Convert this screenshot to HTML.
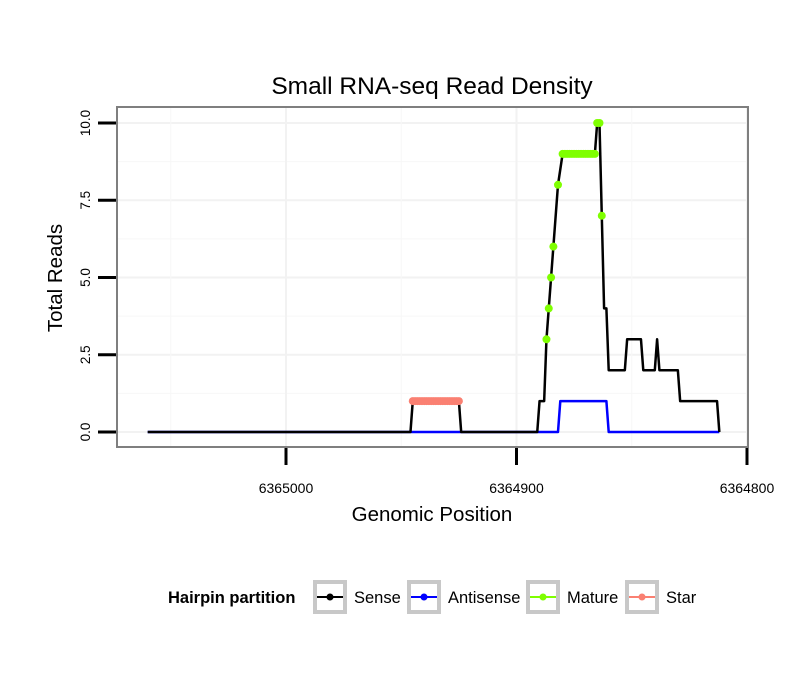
<!DOCTYPE html>
<html><head><meta charset="utf-8"><style>
body{margin:0;background:#fff}
svg{display:block;font-family:"Liberation Sans",sans-serif}
</style></head><body>
<svg id="chart" width="810" height="690">
<rect width="810" height="690" fill="#fff"/>
<text x="432" y="94" text-anchor="middle" font-size="24.5">Small RNA-seq Read Density</text>
<g id="grid"></g>
<g id="series"></g>
<rect x="117" y="107" width="631" height="340" fill="none" stroke="#7f7f7f" stroke-width="2"/>
<g id="axes"></g>
<text x="432" y="521" text-anchor="middle" font-size="20.5">Genomic Position</text>
<text transform="translate(62,278) rotate(-90)" text-anchor="middle" font-size="20.5">Total Reads</text>
<g id="legend">
<text x="168" y="603" font-size="16.5" font-weight="bold">Hairpin partition</text>
</g>
</svg>
<script>
const xTicks=[6365000,6364900,6364800];
const yTicks=[0,2.5,5,7.5,10];
const yTickLabels=["0.0","2.5","5.0","7.5","10.0"];
const senseX=[6365060,6364946,6364945,6364925,6364924,6364891,6364890,6364888,6364887,6364886,6364885,6364884,6364882,6364880,6364866,6364865,6364864,6364863,6364862,6364861,6364860,6364853,6364852,6364846,6364845,6364840,6364839,6364838,6364830,6364829,6364813,6364812];
const senseY=[0,0,1,1,0,0,1,1,3,4,5,6,8,9,9,10,10,7,4,4,2,2,3,3,2,2,3,2,2,1,1,0];
const antiX=[6365060,6364882,6364881,6364861,6364860,6364812];
const antiY=[0,0,1,1,0,0];
const starX=[6364945,6364944,6364943,6364942,6364941,6364940,6364939,6364938,6364937,6364936,6364935,6364934,6364933,6364932,6364931,6364930,6364929,6364928,6364927,6364926,6364925];
const starY=[1,1,1,1,1,1,1,1,1,1,1,1,1,1,1,1,1,1,1,1,1];
const matureX=[6364887,6364886,6364885,6364884,6364882,6364880,6364879,6364878,6364877,6364876,6364875,6364874,6364873,6364872,6364871,6364870,6364869,6364868,6364867,6364866,6364865,6364864,6364863];
const matureY=[3,4,5,6,8,9,9,9,9,9,9,9,9,9,9,9,9,9,9,9,10,10,7];
const legendLabels=["Sense","Antisense","Mature","Star"];
const legendColors=["#000000","#0000ff","#7fff00","#fa8072"];

const NS="http://www.w3.org/2000/svg";
const xs=v=>286+(6365000-v)*2.305;
const ys=v=>432-v*30.9;
function mk(tag,attrs,parent){const e=document.createElementNS(NS,tag);for(const k in attrs)e.setAttribute(k,attrs[k]);parent.appendChild(e);return e;}
const grid=document.getElementById('grid'),ser=document.getElementById('series'),ax=document.getElementById('axes'),lg=document.getElementById('legend');
for(let i=0;i<yTicks.length;i++){
  const g=mk('line',{x1:117,x2:748,y1:ys(yTicks[i]),y2:ys(yTicks[i]),stroke:'#f2f2f2','stroke-width':2},grid);
  
  
  if(i<yTicks.length-1){const m=mk('line',{x1:117,x2:748,y1:ys((yTicks[i]+yTicks[i+1])/2),y2:ys((yTicks[i]+yTicks[i+1])/2),stroke:'#f7f7f7','stroke-width':1},grid);
  
  }
  const t=mk('line',{x1:98,x2:116,y1:ys(yTicks[i]),y2:ys(yTicks[i]),stroke:'#000','stroke-width':3},ax);
  
  
  const l=mk('text',{transform:`translate(90,${ys(yTicks[i])}) rotate(-90)`,'text-anchor':'middle','font-size':13.5},ax);
  l.textContent=yTickLabels[i];
  
  
}
for(const v of xTicks){
  const g=mk('line',{x1:xs(v),x2:xs(v),y1:107,y2:447,stroke:'#f2f2f2','stroke-width':2},grid);
  
  
  const t=mk('line',{x1:xs(v),x2:xs(v),y1:448,y2:465,stroke:'#000','stroke-width':3},ax);
  
  
  const l=mk('text',{x:xs(v),y:493,'text-anchor':'middle','font-size':14},ax);
  l.textContent=v;
  
  
}
[6365050,6364950,6364850].forEach(v=>{const m=mk('line',{x1:xs(v),x2:xs(v),y1:107,y2:447,stroke:'#f7f7f7','stroke-width':1},grid);

});
function line(X,Y,color,name){const p=mk('polyline',{points:X.map((x,i)=>xs(x)+','+ys(Y[i])).join(' '),fill:'none',stroke:color,'stroke-width':2.5,'stroke-linejoin':'round'},ser);

}
function pts(X,Y,color,name){X.forEach((x,i)=>{const c=mk('circle',{cx:xs(x),cy:ys(Y[i]),r:4,fill:color},ser);

});}
line(antiX,antiY,'#0000ff','antisense-line');
line(senseX,senseY,'#000000','sense-line');
pts(starX,starY,'#fa8072','star-point');
pts(matureX,matureY,'#7fff00','mature-point');
const bx=[313,407,526,625];
legendLabels.forEach((lab,i)=>{
  const r=mk('rect',{x:bx[i]+2,y:582,width:30,height:30,fill:'#fff',stroke:'#c8c8c8','stroke-width':4},lg);
  
  
  mk('line',{x1:bx[i]+4,x2:bx[i]+30,y1:597,y2:597,stroke:legendColors[i],'stroke-width':2},lg);
  mk('circle',{cx:bx[i]+17,cy:597,r:3.5,fill:legendColors[i]},lg);
  const t=mk('text',{x:bx[i]+41,y:603,'font-size':16.5},lg);
  t.textContent=lab;
  
  
});
</script>
</body></html>
